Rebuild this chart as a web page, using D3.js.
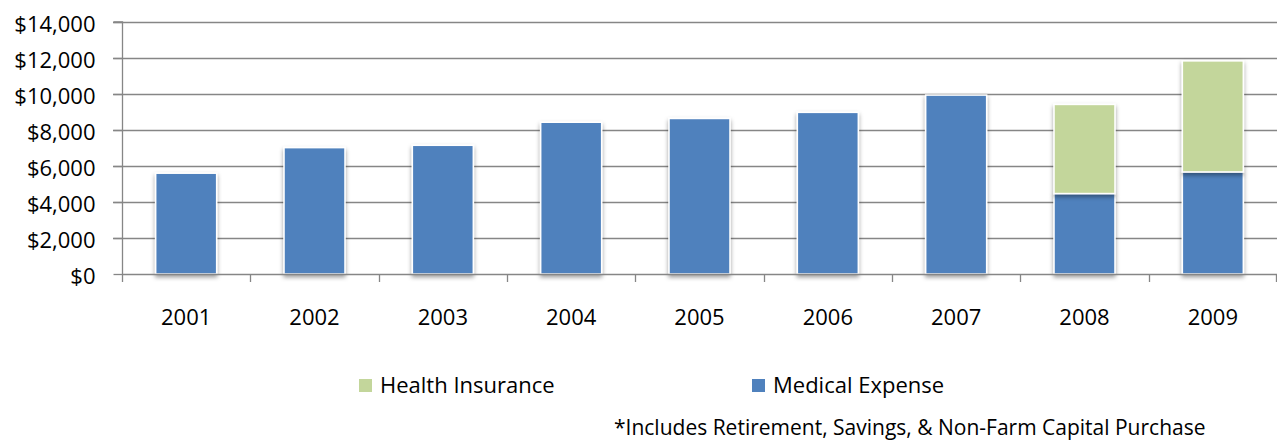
<!DOCTYPE html>
<html>
<head>
<meta charset="utf-8">
<script src="https://cdnjs.cloudflare.com/ajax/libs/d3/7.8.5/d3.min.js"></script>
<style>
  html, body { margin: 0; padding: 0; background: #fff; }
  svg { display: block; }
  text { font-family: "Open Sans", "Noto Sans", sans-serif; fill: #000; }
</style>
</head>
<body>
<svg id="chart" width="1277" height="440"></svg>
<script>
const years = ["2001","2002","2003","2004","2005","2006","2007","2008","2009"];
const medicalExpense = [5600, 7020, 7150, 8430, 8640, 8980, 9940, 4470, 5670];
const healthInsurance = [0, 0, 0, 0, 0, 0, 0, 4950, 6170];
const yTicks = [0, 2000, 4000, 6000, 8000, 10000, 12000, 14000];
const seriesNames = ["Health Insurance", "Medical Expense"];
const seriesColors = ["#C3D69B", "#4F81BD"];
const footnote = "*Includes Retirement, Savings, & Non-Farm Capital Purchase";

(function () {
const FONT = "'Open Sans', 'Noto Sans', sans-serif";
const svg = d3.select("#chart");
const pL = 122, pR = 1277, pT = 22, pB = 274;

const x = d3.scaleBand().domain(years).range([pL, pR]).padding(0);
const y = d3.scaleLinear().domain([0, 14000]).range([pB, pT]);

const defs = svg.append("defs");
const f = defs.append("filter").attr("id", "shadow").attr("x", "-20%").attr("y", "-20%").attr("width", "140%").attr("height", "140%");
f.append("feDropShadow").attr("dx", 0).attr("dy", 2.5).attr("stdDeviation", 2.2).attr("flood-color", "#000").attr("flood-opacity", 0.4);

// gridlines
svg.append("g").selectAll("line").data(yTicks.slice(1)).join("line")
  .attr("x1", pL - 9).attr("x2", pR)
  .attr("y1", d => Math.round(y(d)) + 0.5).attr("y2", d => Math.round(y(d)) + 0.5)
  .attr("stroke", "#868686").attr("stroke-width", 1.3);

// y axis
const yAxis = svg.append("g").attr("transform", `translate(${pL + 0.5},0)`)
  .call(d3.axisLeft(y).tickValues(yTicks).tickSize(9).tickPadding(18)
    .tickFormat(d => "$" + d3.format(",")(d)));
yAxis.select(".domain").attr("stroke", "#868686").attr("stroke-width", 1.3).attr("d", `M-9,${pT}H0V${pB}`);
yAxis.selectAll(".tick line").attr("stroke", "#868686").attr("stroke-width", 1.3);
yAxis.selectAll(".tick text").attr("font-size", 22).attr("font-family", FONT).attr("fill", "#000").attr("dy", "0.42em");

// bars
const barW = x.bandwidth() * 0.475;
const stacked = years.map((yr, i) => ({ yr, med: medicalExpense[i], hi: healthInsurance[i] }));
const bars = svg.append("g");
bars.selectAll("rect.med").data(stacked).join("rect").attr("class", "med")
  .attr("x", d => x(d.yr) + (x.bandwidth() - barW) / 2)
  .attr("width", barW)
  .attr("y", d => y(d.med))
  .attr("height", d => y(0) - y(d.med))
  .attr("fill", seriesColors[1]).attr("stroke", "#fff").attr("stroke-width", 1.5)
  .attr("filter", "url(#shadow)");
bars.selectAll("rect.hi").data(stacked.filter(d => d.hi > 0)).join("rect").attr("class", "hi")
  .attr("x", d => x(d.yr) + (x.bandwidth() - barW) / 2)
  .attr("width", barW)
  .attr("y", d => y(d.med + d.hi))
  .attr("height", d => y(d.med) - y(d.med + d.hi))
  .attr("fill", seriesColors[0]).attr("stroke", "#fff").attr("stroke-width", 1.5)
  .attr("filter", "url(#shadow)");

// x axis
const xAxis = svg.append("g").attr("transform", `translate(0,${pB + 0.5})`)
  .call(d3.axisBottom(x).tickSize(0).tickPadding(0));
xAxis.select(".domain").attr("stroke", "#868686").attr("stroke-width", 1.3).attr("d", `M${pL},0H${pR}`);
xAxis.selectAll(".tick text").attr("font-size", 22).attr("font-family", FONT).attr("fill", "#000")
  .attr("y", 50).attr("dy", 0);
const bounds = years.map(yr => x(yr)).concat([pR]);
svg.append("g").selectAll("line").data(bounds).join("line")
  .attr("x1", d => Math.min(Math.round(d) + 0.5, pR - 0.5)).attr("x2", d => Math.min(Math.round(d) + 0.5, pR - 0.5))
  .attr("y1", pB).attr("y2", pB + 8)
  .attr("stroke", "#868686").attr("stroke-width", 1.3);

// legend
const legendX = [359, 752];
const lg = svg.append("g");
seriesNames.forEach((name, i) => {
  lg.append("rect").attr("x", legendX[i]).attr("y", 379).attr("width", 13).attr("height", 13).attr("fill", seriesColors[i]);
  lg.append("text").attr("x", legendX[i] + 21).attr("y", 392.5).attr("font-size", 22).attr("font-family", FONT).text(name);
});

// footnote
svg.append("text").attr("x", 614).attr("y", 434.5).attr("font-size", 21).attr("font-family", FONT).text(footnote);
})();
</script>
</body>
</html>
